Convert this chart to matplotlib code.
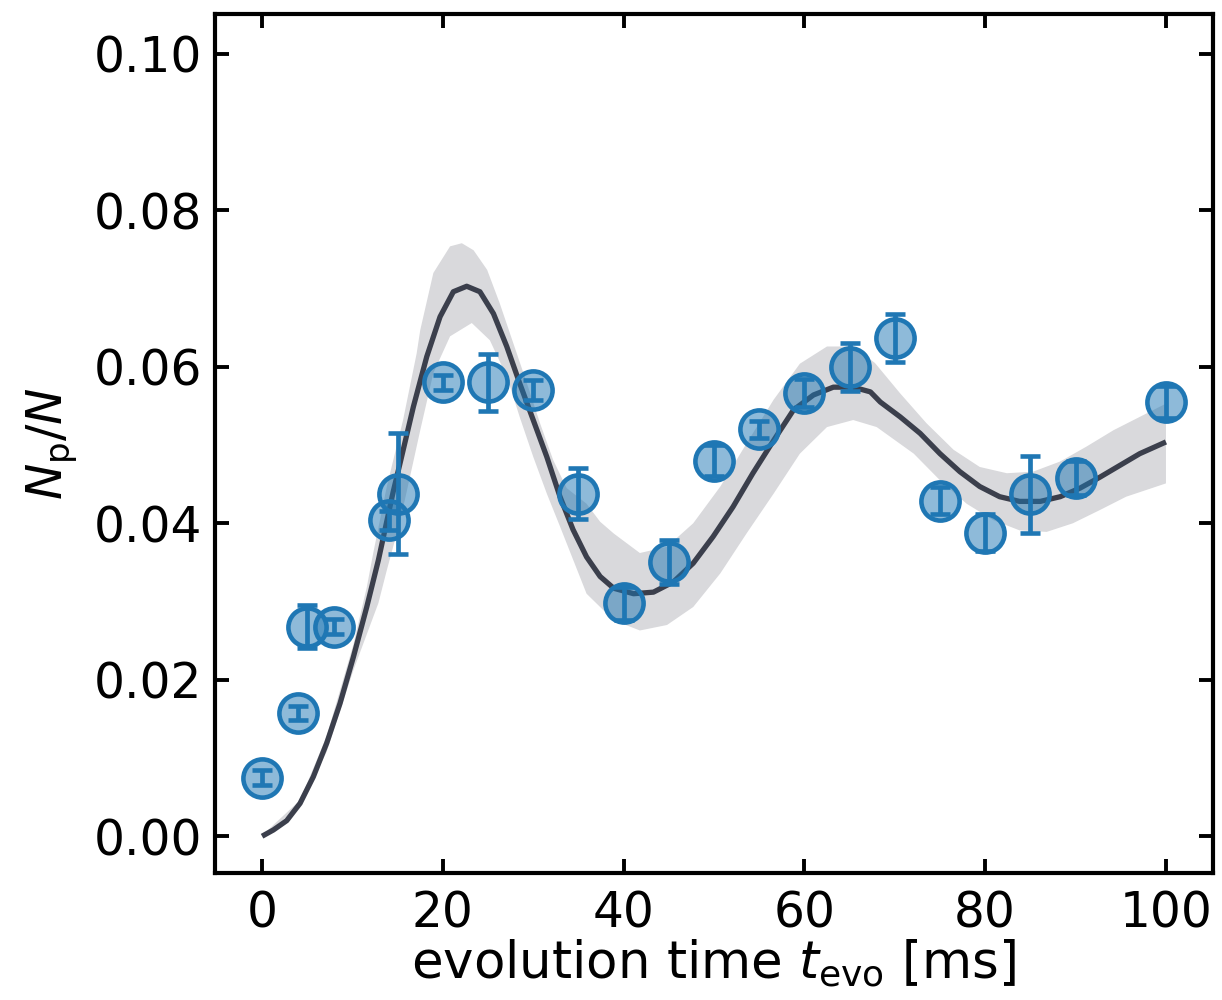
import numpy as np
import matplotlib
matplotlib.use("Agg")
import matplotlib.pyplot as plt

# Measured fraction N_p/N versus evolution time
t_data = [0, 4, 5, 8, 14, 15, 20, 25, 30, 35, 40, 45, 50, 55, 60, 65, 70, 75, 80, 85, 90, 100]
frac = [0.0075, 0.0158, 0.0268, 0.0268, 0.0404, 0.0438, 0.0580, 0.0580, 0.0570, 0.0438,
        0.0298, 0.0351, 0.0480, 0.0520, 0.0567, 0.0600, 0.0637, 0.0429, 0.0388, 0.0437,
        0.0458, 0.0555]
frac_err = [0.0010, 0.0009, 0.0027, 0.0010, 0.0012, 0.0077, 0.0010, 0.0037, 0.0013, 0.0033,
            0.0021, 0.0028, 0.0020, 0.0011, 0.0018, 0.0031, 0.0031, 0.0017, 0.0024, 0.0049,
            0.0022, 0.0021]

# Model curve
t_fit = [0, 1.25, 2.73, 4.2, 5.67, 7.15, 8.63, 10.1, 11.58, 12.87, 14.5, 15.27, 16.74,
         18.22, 19.69, 21.16, 22.64, 24.1, 25.6, 27.07, 28.5, 30.0, 31.5, 32.96, 34.4,
         35.9, 37.4, 38.9, 41.1, 43.3, 45.5, 47.7, 49.9, 52.1, 54.3, 56.6, 58.8, 61.0,
         63.2, 65.4, 67.3, 68.4, 70.6, 72.8, 75.0, 77.2, 79.4, 81.6, 83.8, 86.1, 88.3,
         90.5, 92.7, 94.9, 97.1, 100]
frac_fit = [0.0000, 0.0008, 0.0020, 0.0042, 0.0076, 0.0119, 0.0170, 0.0229, 0.0293, 0.0353,
            0.0440, 0.0477, 0.0549, 0.0613, 0.0664, 0.0696, 0.0703, 0.0696, 0.0668, 0.0626,
            0.0579, 0.0532, 0.0485, 0.0434, 0.0392, 0.0357, 0.0332, 0.0317, 0.0310, 0.0312,
            0.0325, 0.0349, 0.0383, 0.0421, 0.0464, 0.0506, 0.0545, 0.0564, 0.0574, 0.0574,
            0.0568, 0.0555, 0.0536, 0.0515, 0.0489, 0.0466, 0.0447, 0.0434, 0.0428, 0.0428,
            0.0434, 0.0445, 0.0459, 0.0474, 0.0489, 0.0504]

# Confidence band edges
t_band_hi = [0, 4.2, 7.15, 10.1, 11.58, 12.3, 13.8, 15.6, 17.1, 17.5, 18.95, 20.8, 22.1,
             23.4, 24.9, 26.3, 27.8, 29.3, 30.75, 32.2, 33.7, 35.9, 37.4, 38.9, 41.8, 44.8,
             47.7, 50.7, 53.6, 56.6, 59.5, 62.5, 65.4, 67.8, 70.6, 73.5, 76.5, 79.4, 82.4,
             85.3, 88.3, 91.2, 94.2, 97.1, 100]
band_hi = [0.0001, 0.0046, 0.0128, 0.0245, 0.0318, 0.0362, 0.0447, 0.0532, 0.0617, 0.0647,
           0.0720, 0.0754, 0.0758, 0.0749, 0.0724, 0.0681, 0.0630, 0.0579, 0.0528, 0.0481,
           0.0445, 0.0425, 0.0402, 0.0387, 0.0362, 0.0370, 0.0400, 0.0447, 0.0502, 0.0558,
           0.0604, 0.0626, 0.0626, 0.0605, 0.0566, 0.0528, 0.0494, 0.0472, 0.0464, 0.0466,
           0.0479, 0.0498, 0.0519, 0.0536, 0.0553]
t_band_lo = [0, 4.2, 7.15, 10.1, 12.87, 13.8, 15.3, 16.7, 17.5, 18.95, 20.8, 23.2, 25.2,
             27.1, 28.5, 30.0, 31.5, 32.96, 35.9, 38.9, 41.8, 44.8, 47.7, 50.7, 53.6, 56.6,
             59.5, 62.5, 65.4, 68.0, 72.1, 75.0, 77.95, 80.9, 83.8, 86.8, 89.7, 92.7, 95.6,
             100]
band_lo = [0.0000, 0.0038, 0.0108, 0.0212, 0.0298, 0.0340, 0.0404, 0.0477, 0.0519, 0.0592,
           0.0639, 0.0656, 0.0634, 0.0587, 0.0536, 0.0485, 0.0438, 0.0396, 0.0310, 0.0276,
           0.0263, 0.0270, 0.0293, 0.0336, 0.0387, 0.0438, 0.0489, 0.0523, 0.0532, 0.0523,
           0.0489, 0.0455, 0.0425, 0.0404, 0.0391, 0.0389, 0.0400, 0.0417, 0.0434, 0.0451]

blue = "#1f77b4"
line_col = "#3b3f4c"
band_col = "#d9d9dc"

fig = plt.figure(figsize=(12.22, 10.0), dpi=100)
ax = fig.add_axes([0.176, 0.127, 0.8166, 0.859])

band_x = np.concatenate([t_band_hi, t_band_lo[::-1]])
band_y = np.concatenate([band_hi, band_lo[::-1]])
ax.fill(band_x, band_y, color=band_col, lw=0, zorder=1)
ax.plot(t_fit, frac_fit, color=line_col, lw=3.8, zorder=2,
        solid_joinstyle="round", solid_capstyle="butt")

ax.errorbar(t_data, frac, yerr=frac_err, fmt="o", ms=27.5, mfc=(0.122, 0.467, 0.706, 0.5),
            mec=blue, mew=3.3, ecolor=blue, elinewidth=3.4, capsize=7, capthick=3.4,
            zorder=3)

ax.set_xlim(-5.2, 105.2)
ax.set_ylim(-0.0047, 0.1051)
ax.set_xticks([0, 20, 40, 60, 80, 100])
ax.set_yticks([0.00, 0.02, 0.04, 0.06, 0.08, 0.10])
ax.set_yticklabels(["0.00", "0.02", "0.04", "0.06", "0.08", "0.10"])

for s in ax.spines.values():
    s.set_linewidth(3.0)
ax.tick_params(direction="in", length=10, width=2.8, labelsize=35,
               top=True, right=True, pad=9)
ax.tick_params(axis="x", pad=12)

ax.set_xlabel(r"evolution time $t_\mathrm{evo}$ [ms]", fontsize=37, labelpad=0)
ax.set_ylabel(r"$N_\mathrm{p}/N$", fontsize=35, labelpad=10)

fig.savefig("out.png", dpi=100)
